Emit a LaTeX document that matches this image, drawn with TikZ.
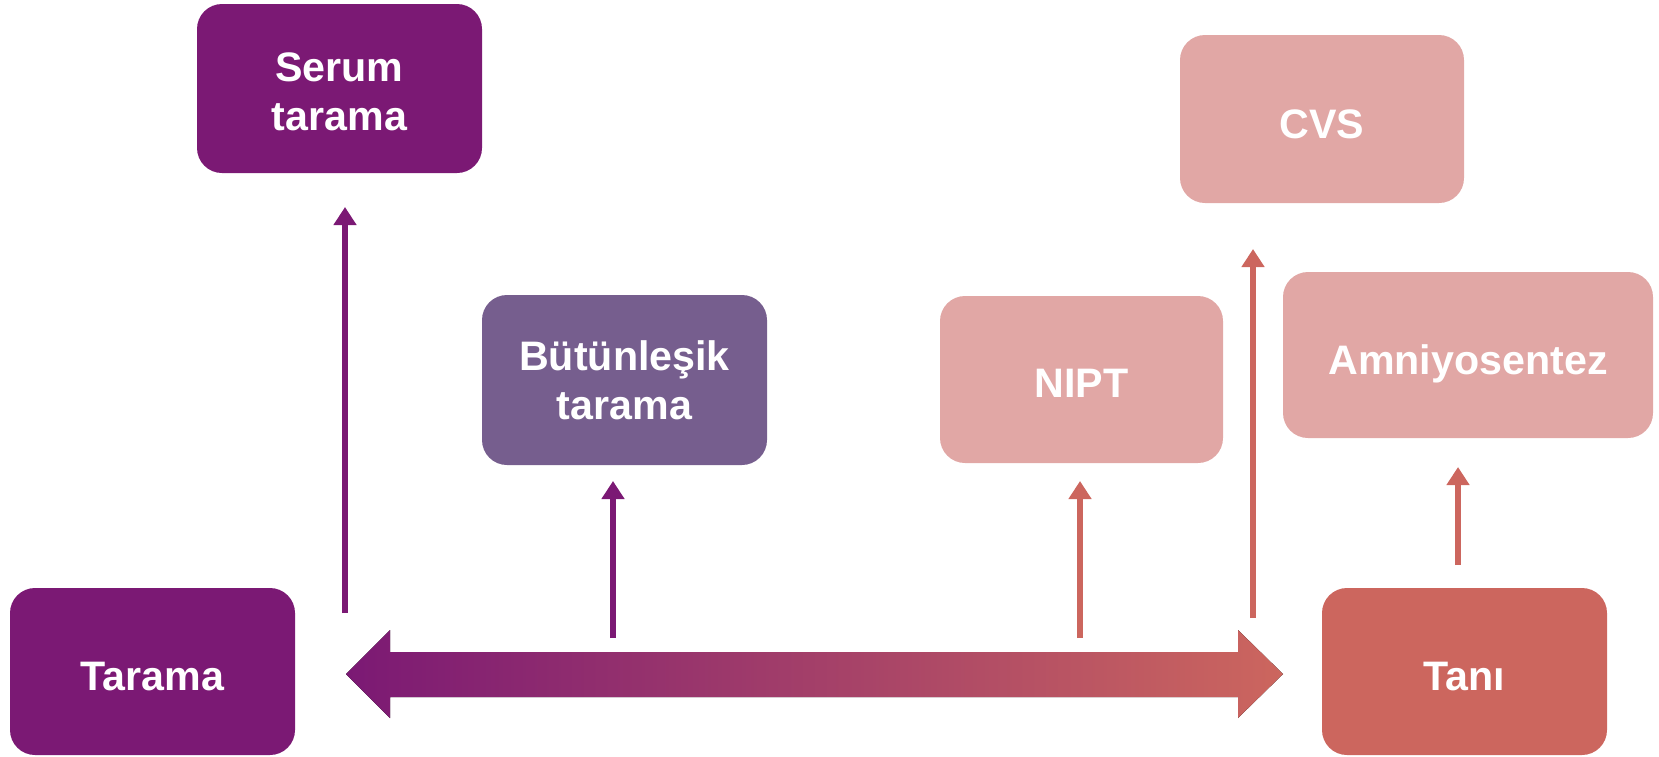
\documentclass[tikz,border=0pt]{standalone}
\usepackage{fontspec}
\setmainfont{Liberation Sans}
\usetikzlibrary{arrows.meta}
\definecolor{dpurple}{RGB}{123,25,116}
\definecolor{mpurple}{RGB}{118,94,142}
\definecolor{lpink}{RGB}{225,167,165}
\definecolor{coral}{RGB}{204,102,94}
\newcommand\shiftedtext[2]{\raisebox{#1}[0pt][0pt]{#2}}
\newcommand\twolines[3]{\vtop{\baselineskip=#1\halign{\hfil##\hfil\cr #2\cr #3\cr}}}
\tikzset{
  box/.style={rounded corners=12.5pt, inner sep=0pt, text=white,
    font=\fontsize{20.6}{24.5}\selectfont\bfseries},
  uparrow/.style={line width=3pt, -{Triangle[width=11pt,length=9pt]}},
}
\begin{document}
\begin{tikzpicture}[x=0.5pt,y=-0.5pt]
\useasboundingbox (0,0) rectangle (1659,756);
% boxes
\node[box, fill=dpurple, minimum width=142.5pt, minimum height=84.5pt] (serum) at (339.5,88.5)
  {\shiftedtext{3.75pt}{\twolines{24.5pt}{Serum}{tarama}}};
\node[box, fill=dpurple, minimum width=142.5pt, minimum height=83.5pt] (tarama) at (152.5,671.5)
  {\shiftedtext{-9.25pt}{Tarama}};
\node[box, fill=coral, minimum width=142.5pt, minimum height=83.5pt] (tani) at (1464.5,671.5)
  {\shiftedtext{-9.25pt}{Tanı}};
\node[box, fill=lpink, minimum width=142pt, minimum height=84pt] (cvs) at (1322,119)
  {\shiftedtext{-9.75pt}{CVS}};
\node[box, fill=lpink, minimum width=185pt, minimum height=83pt] (amnio) at (1468,355)
  {\shiftedtext{-9.75pt}{Amniyosentez}};
\node[box, fill=lpink, minimum width=141.5pt, minimum height=83.5pt] (nipt) at (1081.5,379.5)
  {\shiftedtext{-9pt}{NIPT}};
\node[box, fill=mpurple, minimum width=142.5pt, minimum height=85pt] (butun) at (624.5,380)
  {\shiftedtext{5pt}{\twolines{24.5pt}{Bütünleşik}{tarama}}};
% big double arrow
\fill[left color=dpurple, right color=coral]
  (346,674) -- (390,630) -- (390,652) -- (1238,652) -- (1238,630) -- (1283,674)
  -- (1238,718) -- (1238,697) -- (390,697) -- (390,718) -- cycle;
% arrow endpoints
\coordinate (s0) at (345,613); \coordinate (s1) at (345,207);
\coordinate (b0) at (613,638); \coordinate (b1) at (613,481);
\coordinate (n0) at (1080,638); \coordinate (n1) at (1080,481);
\coordinate (c0) at (1253,618); \coordinate (c1) at (1253,249);
\coordinate (a0) at (1458,565); \coordinate (a1) at (1458,467);
\draw[uparrow, dpurple] (s0) -- (s1);
\draw[uparrow, dpurple] (b0) -- (b1);
\draw[uparrow, coral] (n0) -- (n1);
\draw[uparrow, coral] (c0) -- (c1);
\draw[uparrow, coral] (a0) -- (a1);
\end{tikzpicture}
\end{document}
